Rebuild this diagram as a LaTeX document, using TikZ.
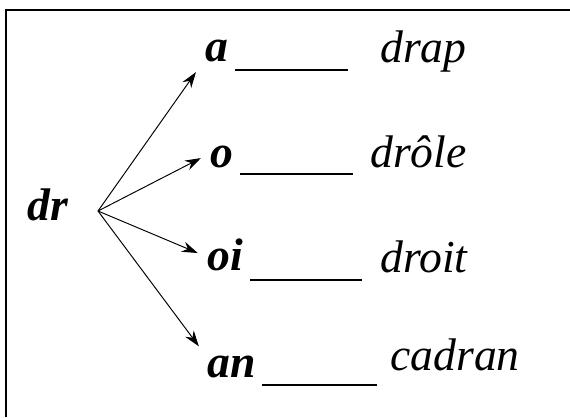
\documentclass[tikz,border=0pt]{standalone}
\usepackage{fontspec}
\setmainfont{Liberation Serif}
\usepackage{tikz}
\usetikzlibrary{arrows.meta,calc,positioning}
\tikzset{
  stem/.style={font=\fontsize{26}{31}\selectfont\bfseries\itshape,inner sep=0.12cm,anchor=base west},
  word/.style={font=\fontsize{26}{31}\selectfont\itshape,inner sep=0pt,anchor=base west},
  blank/.style={line width=1.6pt},
  branch/.style={-{Stealth[length=9pt,width=6pt]},line width=0.55pt}
}

\begin{document}
\begin{tikzpicture}[x=0.02cm,y=-0.02cm]
  \useasboundingbox (0,0) rectangle (570,417);
  \draw[line width=0.9pt] (6,417) |- (570,10);
  % root
  \node[stem] (dr) at (21,220) {dr};
  \coordinate (fork) at (98,211);
  % endings
  \node[stem] (a) at (199,61) {a};
  \node[stem] (o) at (204,167) {o};
  \node[stem] (oi) at (201,270) {oi};
  \node[stem] (an) at (201,377) {an};
  \draw[blank] (235,70) -- (348,70);
  \draw[blank] (240,174) -- (353,174);
  \draw[blank] (250,280) -- (362,280);
  \draw[blank] (262,385) -- (377,385);
  % words
  \node[word] (drap) at (380,62) {drap};
  \node[word] (drole) at (370,167) {drôle};
  \node[word] (droit) at (380,272) {droit};
  \node[word] (cadran) at (390,370) {cadran};
  % arrows
  \draw[branch,shorten >=3pt] (fork) -- (a.south west);
  \draw[branch,shorten >=2pt] (fork) -- (o.west);
  \draw[branch,shorten >=2pt] (fork) -- (oi.west);
  \draw[branch,shorten >=2pt] (fork) -- (an.north west);
\end{tikzpicture}
\end{document}
